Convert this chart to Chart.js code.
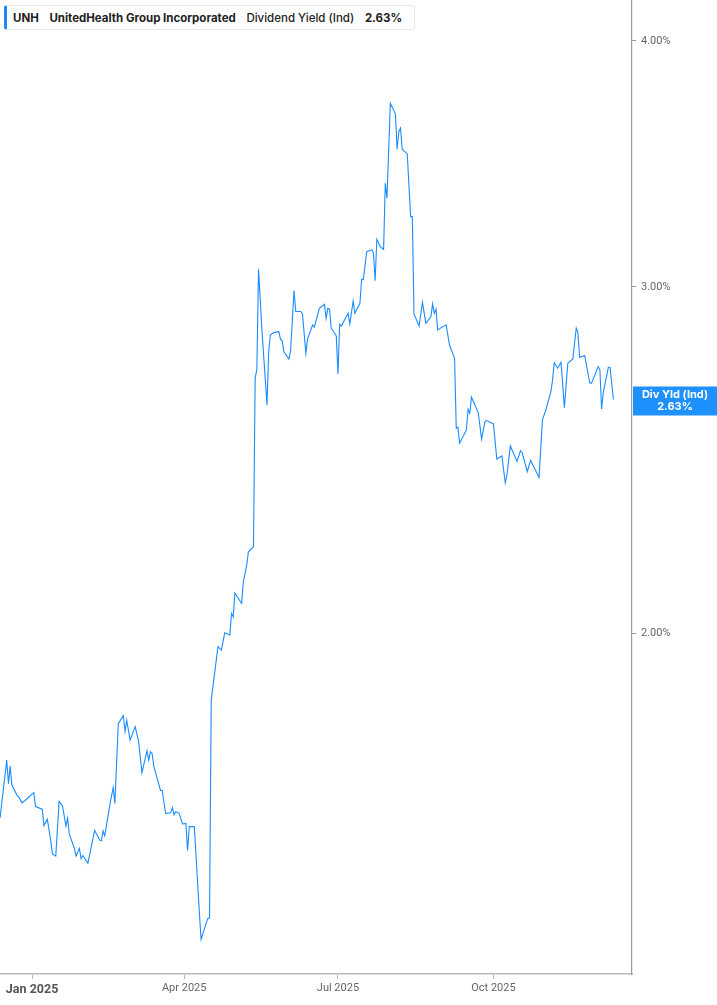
<!DOCTYPE html>
<html>
<head>
<meta charset="utf-8">
<script src="https://cdn.jsdelivr.net/npm/chart.js@4.4.1/dist/chart.umd.min.js"></script>
<style>
  html, body { margin: 0; padding: 0; background: #fff; }
  #wrap { position: relative; width: 717px; height: 1005px; }
  #legend {
    position: absolute; left: 4px; top: 5px; height: 25px; width: 411px;
    box-sizing: border-box; background: #fff;
    border: 1px solid #e8e8e8; border-left: 3px solid #1e88ff; border-radius: 3px;
    font-family: Inter, "Noto Sans", sans-serif; font-size: 11.5px; color: #222;
    display: flex; align-items: center; padding-left: 6px; white-space: nowrap;
  }
  #legend span { margin-right: 10.6px; }
  #legend .b { font-weight: 700; }
  #legend .m { font-weight: 500; }
</style>
</head>
<body>
<div id="wrap">
  <canvas id="c" width="717" height="1005"></canvas>
  <div id="legend">
    <span class="b" id="lgTicker"></span>
    <span class="b" id="lgName"></span>
    <span class="m" id="lgMetric"></span>
    <span class="b" id="lgValue"></span>
  </div>
</div>
<script>
const ticker = "UNH";
const companyName = "UnitedHealth Group Incorporated";
const metricName = "Dividend Yield (Ind)";
const tagName = "Div Yld (Ind)";

const dates = [
"2024-12-13","2024-12-17","2024-12-18","2024-12-19","2024-12-20","2024-12-23","2024-12-24","2024-12-26","2024-12-29","2025-01-01",
"2025-01-02","2025-01-03","2025-01-07","2025-01-08","2025-01-10","2025-01-12","2025-01-13","2025-01-15","2025-01-17","2025-01-19",
"2025-01-21","2025-01-22","2025-01-23","2025-01-26","2025-01-27","2025-01-29","2025-01-30","2025-01-31","2025-02-03","2025-02-07",
"2025-02-10","2025-02-11","2025-02-12","2025-02-13","2025-02-16","2025-02-18","2025-02-19","2025-02-21","2025-02-24","2025-02-25",
"2025-02-26","2025-02-28","2025-03-03","2025-03-05","2025-03-07","2025-03-10","2025-03-11","2025-03-12","2025-03-13","2025-03-14",
"2025-03-18","2025-03-19","2025-03-21","2025-03-24","2025-03-25","2025-03-26","2025-03-27","2025-03-29","2025-03-31","2025-04-02",
"2025-04-03","2025-04-04","2025-04-07","2025-04-10","2025-04-11","2025-04-15","2025-04-16","2025-04-17","2025-04-18","2025-04-21",
"2025-04-23","2025-04-25","2025-04-28","2025-04-29","2025-04-30","2025-05-01","2025-05-05","2025-05-06","2025-05-08","2025-05-09",
"2025-05-12","2025-05-13","2025-05-14","2025-05-15","2025-05-17","2025-05-20","2025-05-21","2025-05-22","2025-05-24","2025-05-27",
"2025-05-28","2025-05-29","2025-05-30","2025-06-02","2025-06-03","2025-06-05","2025-06-06","2025-06-09","2025-06-10","2025-06-12",
"2025-06-13","2025-06-16","2025-06-17","2025-06-20","2025-06-23","2025-06-24","2025-06-25","2025-06-26","2025-06-27","2025-06-30",
"2025-07-01","2025-07-02","2025-07-03","2025-07-07","2025-07-08","2025-07-10","2025-07-11","2025-07-14","2025-07-15","2025-07-16",
"2025-07-18","2025-07-21","2025-07-22","2025-07-23","2025-07-24","2025-07-26","2025-07-28","2025-07-29","2025-07-30","2025-08-01",
"2025-08-04","2025-08-05","2025-08-06","2025-08-07","2025-08-08","2025-08-11","2025-08-13","2025-08-14","2025-08-15","2025-08-18",
"2025-08-20","2025-08-22","2025-08-25","2025-08-26","2025-08-27","2025-08-28","2025-08-29","2025-09-03","2025-09-05","2025-09-08",
"2025-09-09","2025-09-10","2025-09-11","2025-09-15","2025-09-16","2025-09-17","2025-09-18","2025-09-22","2025-09-24","2025-09-26",
"2025-09-27","2025-10-01","2025-10-03","2025-10-06","2025-10-08","2025-10-09","2025-10-11","2025-10-15","2025-10-17","2025-10-18",
"2025-10-21","2025-10-23","2025-10-25","2025-10-28","2025-10-30","2025-11-01","2025-11-04","2025-11-05","2025-11-06","2025-11-08",
"2025-11-10","2025-11-12","2025-11-14","2025-11-17","2025-11-19","2025-11-20","2025-11-21","2025-11-24","2025-11-27","2025-11-28",
"2025-12-02","2025-12-03","2025-12-04","2025-12-05","2025-12-08","2025-12-09","2025-12-11"
];

const yieldValues = [
1.612,1.725,1.678,1.713,1.676,1.656,1.653,1.641,1.649,1.658,
1.661,1.634,1.629,1.598,1.610,1.571,1.546,1.542,1.644,1.635,
1.597,1.612,1.582,1.556,1.542,1.556,1.537,1.543,1.529,1.589,
1.571,1.570,1.588,1.579,1.637,1.671,1.640,1.800,1.817,1.784,
1.807,1.766,1.794,1.763,1.700,1.744,1.725,1.742,1.739,1.713,
1.665,1.665,1.621,1.622,1.632,1.618,1.624,1.621,1.601,1.602,
1.552,1.596,1.596,1.442,1.399,1.434,1.434,1.851,1.880,1.970,
1.962,2.002,1.997,2.048,2.040,2.097,2.072,2.125,2.167,2.201,
2.214,2.696,2.725,3.063,2.853,2.613,2.781,2.836,2.844,2.847,
2.822,2.817,2.781,2.757,2.787,2.987,2.915,2.915,2.907,2.776,
2.822,2.870,2.862,2.926,2.940,2.892,2.926,2.923,2.859,2.833,
2.710,2.872,2.866,2.909,2.873,2.951,2.909,2.943,3.027,3.025,
3.126,3.133,3.121,3.022,3.172,3.145,3.135,3.387,3.328,3.719,
3.673,3.524,3.597,3.612,3.524,3.505,3.257,3.257,2.907,2.866,
2.946,2.875,2.897,2.941,2.909,2.923,2.853,2.870,2.803,2.760,
2.543,2.546,2.499,2.538,2.600,2.588,2.637,2.590,2.511,2.563,
2.566,2.556,2.453,2.462,2.386,2.408,2.491,2.446,2.477,2.472,
2.417,2.449,2.430,2.401,2.568,2.598,2.654,2.691,2.746,2.728,
2.747,2.605,2.744,2.758,2.859,2.844,2.763,2.768,2.682,2.680,
2.733,2.723,2.601,2.651,2.731,2.731,2.63
];

const xTickDates = ["2025-01-01","2025-04-01","2025-07-01","2025-10-01"];
const xTickLabels = ["Jan 2025","Apr 2025","Jul 2025","Oct 2025"];
const yTickValues = [2, 3, 4];
const xRange = ["2024-12-13", "2025-12-22"];
const yRange = [1.3434, 4.196];

const BASE = Date.UTC(2025, 0, 1);
function dayNum(s) {
  const p = s.split("-").map(Number);
  return (Date.UTC(p[0], p[1] - 1, p[2]) - BASE) / 86400000;
}

const points = dates.map((d, i) => ({ x: dayNum(d), y: yieldValues[i] }));
const xTickDays = xTickDates.map(dayNum);
const lastValue = yieldValues[yieldValues.length - 1];

document.getElementById("lgTicker").textContent = ticker;
document.getElementById("lgName").textContent = companyName;
document.getElementById("lgMetric").textContent = metricName;
document.getElementById("lgValue").textContent = lastValue.toFixed(2) + "%";

const LINE = "#1a8cff";
const TAG = "#1e90ff";

const tagPlugin = {
  id: "lastTag",
  afterDraw(chart) {
    const ctx = chart.ctx;
    const ys = chart.scales.y;
    const area = chart.chartArea;
    const py = ys.getPixelForValue(lastValue) + 1.5;
    const left = area.right + 1;
    const right = chart.width;
    ctx.save();
    ctx.fillStyle = TAG;
    ctx.fillRect(left, py - 14.5, right - left, 29);
    ctx.fillStyle = "#fff";
    ctx.font = "bold 11px Inter, 'Noto Sans', sans-serif";
    ctx.textAlign = "center";
    ctx.textBaseline = "middle";
    const cx = (left + right) / 2;
    ctx.fillText(tagName, cx, py - 6);
    ctx.fillText(lastValue.toFixed(2) + "%", cx, py + 6);
    ctx.restore();
  }
};

new Chart(document.getElementById("c"), {
  type: "line",
  data: {
    datasets: [{
      data: points,
      borderColor: LINE,
      borderWidth: 1.1,
      pointRadius: 0,
      tension: 0,
      fill: false
    }]
  },
  plugins: [tagPlugin],
  options: {
    responsive: false,
    animation: false,
    events: [],
    layout: { padding: 0 },
    plugins: { legend: { display: false }, tooltip: { enabled: false } },
    scales: {
      x: {
        type: "linear",
        position: "bottom",
        bounds: "data",
        min: dayNum(xRange[0]),
        max: dayNum(xRange[1]),
        afterBuildTicks: (s) => {
          s.ticks = xTickDays.map(v => ({ value: v }));
          s.min = dayNum(xRange[0]); s.max = dayNum(xRange[1]);
        },
        afterFit: (s) => { s.height = 31; s.paddingLeft = 0; s.paddingRight = 0; },
        border: { display: true, color: "#b8b8b8", width: 1.5 },
        grid: { display: true, drawOnChartArea: false, drawTicks: true, tickLength: 5, color: "#b8b8b8", lineWidth: 1 },
        ticks: {
          autoSkip: false,
          maxRotation: 0,
          padding: 3,
          color: (c) => c.index === 0 ? "#555" : "#666",
          font: (c) => c.index === 0
            ? { family: "Roboto, 'Liberation Sans', sans-serif", size: 12.5, weight: "bold" }
            : { family: "Roboto, 'Liberation Sans', sans-serif", size: 11, weight: "normal" },
          callback: (v, i) => xTickLabels[i]
        }
      },
      y: {
        type: "logarithmic",
        position: "right",
        bounds: "data",
        min: yRange[0],
        max: yRange[1],
        afterBuildTicks: (s) => {
          s.ticks = yTickValues.map(v => ({ value: v }));
          s.min = yRange[0]; s.max = yRange[1];
        },
        afterFit: (s) => { s.width = 85; s.paddingTop = 0; s.paddingBottom = 0; },
        border: { display: true, color: "#9a9a9a", width: 1.2 },
        grid: { display: true, drawOnChartArea: false, drawTicks: true, tickLength: 4, color: "#9a9a9a", lineWidth: 1 },
        ticks: {
          autoSkip: false,
          padding: 5,
          color: "#666",
          font: { family: "Roboto, 'Liberation Sans', sans-serif", size: 11 },
          callback: (v) => Number(v).toFixed(2) + "%"
        }
      }
    }
  }
});
</script>
</body>
</html>
